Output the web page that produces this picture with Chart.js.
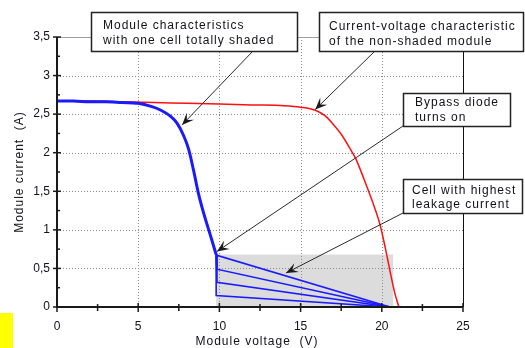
<!DOCTYPE html>
<html>
<head>
<meta charset="utf-8">
<script src="https://cdn.jsdelivr.net/npm/chart.js@4/dist/chart.umd.min.js"></script>
<style>
    html, body { margin: 0; padding: 0; background: #fff; }
</style>
</head>
<body>
<canvas id="iv-chart" width="525" height="348"></canvas>
<script>
// values (V in volts, I in amps)
const xTicks = [0, 5, 10, 15, 20, 25];
const xMinorTicks = [2.5, 7.5, 12.5, 17.5, 22.5];
const yTicks = [0, 0.5, 1, 1.5, 2, 2.5, 3, 3.5];
const yMinorTicks = [0.25, 0.75, 1.25, 1.75, 2.25, 2.75, 3.25];
const yTickLabels = ['0', '0,5', '1', '1,5', '2', '2,5', '3', '3,5'];

// non-shaded module
const unshadedV = [0, 2, 4, 6, 8, 10, 12, 14, 15, 15.9, 16.5, 17, 17.5, 18, 18.4, 18.9, 19.4, 19.9, 20.3, 20.55, 20.8, 21.05];
const unshadedI = [2.67, 2.67, 2.66, 2.65, 2.64, 2.63, 2.62, 2.61, 2.59, 2.55, 2.48, 2.37, 2.24, 2.07, 1.92, 1.66, 1.38, 1.06, 0.68, 0.42, 0.18, 0];

// one cell totally shaded, common part down to the knee
const shadedV = [0, 1, 2, 3, 4, 5, 5.8, 6.4, 7.0, 7.4, 7.8, 8.1, 8.4, 8.7, 9.0, 9.4, 9.8];
const shadedI = [2.67, 2.67, 2.66, 2.66, 2.65, 2.64, 2.60, 2.55, 2.47, 2.38, 2.22, 2.05, 1.78, 1.48, 1.24, 0.96, 0.68];

// bypass branches (one per leakage current)
const bendV = [9.85, 9.85, 9.85, 9.8];
const bendI = [0.67, 0.49, 0.32, 0.15];
const branchEndV = 20.5;
const branchEndI = 0;

// grey leakage region
const zoneV = [9.8, 20.7];
const zoneI = [0, 0.68];

const notes = [
    { lines: ['Module characteristics', 'with one cell totally shaded'], box: [91, 12, 206, 39], text: [103, 29, 15], from: [253, 51], tip: [7.7, 2.36] },
    { lines: ['Current-voltage characteristic', 'of the non-shaded module'], box: [319, 12, 204, 39], text: [329, 30, 15], from: [375, 51], tip: [15.9, 2.56] },
    { lines: ['Bypass diode', 'turns on'], box: [403, 93, 107, 33], text: [415, 106, 15], from: [403, 126], tip: [9.85, 0.72] },
    { lines: ['Cell with highest', 'leakage current'], box: [403, 179, 119, 34], text: [412, 194, 14], from: [403, 213], tip: [14.1, 0.44] }
];

const FONT = 'Arial, "Liberation Sans", sans-serif';
const TEXT = '#111118';

function pts(xs, ys) {
    return xs.map((v, i) => ({ x: v, y: ys[i] }));
}

// first dataset ends up on top
const datasets = [
    { data: pts(shadedV, shadedI), borderColor: '#1a1aff', borderWidth: 3, cubicInterpolationMode: 'monotone' }
];
bendV.forEach((v, i) => {
    datasets.push({
        data: [{ x: shadedV[shadedV.length - 1], y: shadedI[shadedI.length - 1] }, { x: v, y: bendI[i] }, { x: branchEndV, y: branchEndI }],
        borderColor: '#1a1aff', borderWidth: 1.6
    });
});
datasets.push({ data: pts(unshadedV, unshadedI), borderColor: '#ff1010', borderWidth: 1.5, cubicInterpolationMode: 'monotone' });

function seg(ctx, x0, y0, x1, y1) {
    ctx.beginPath();
    ctx.moveTo(x0, y0);
    ctx.lineTo(x1, y1);
    ctx.stroke();
}

function arrowHead(ctx, fx, fy, tx, ty) {
    const a = Math.atan2(ty - fy, tx - fx);
    const len = 12, wid = 5;
    const c = Math.cos(a), s = Math.sin(a);
    ctx.beginPath();
    ctx.moveTo(tx, ty);
    ctx.lineTo(tx - len * c + wid * s, ty - len * s - wid * c);
    ctx.lineTo(tx - 7 * c, ty - 7 * s);
    ctx.lineTo(tx - len * c - wid * s, ty - len * s + wid * c);
    ctx.closePath();
    ctx.fill();
}

const decor = {
    id: 'decor',
    beforeDatasetsDraw(chart) {
        const { ctx, scales: { x, y } } = chart;
        ctx.save();
        // shaded area
        const zx0 = x.getPixelForValue(zoneV[0]), zx1 = x.getPixelForValue(zoneV[1]);
        const zy0 = y.getPixelForValue(zoneI[1]), zy1 = y.getPixelForValue(zoneI[0]);
        ctx.fillStyle = '#dcdcdc';
        ctx.fillRect(zx0, zy0, zx1 - zx0, zy1 - zy0);
        // dotted grid
        ctx.strokeStyle = '#8c8c8c';
        ctx.lineWidth = 1;
        ctx.setLineDash([1, 2]);
        xTicks.slice(1, -1).forEach(v => {
            const px = Math.round(x.getPixelForValue(v)) + 0.5;
            seg(ctx, px, y.getPixelForValue(3.5), px, y.getPixelForValue(0));
        });
        yTicks.slice(1, -1).forEach(v => {
            const py = Math.round(y.getPixelForValue(v)) + 0.5;
            seg(ctx, x.getPixelForValue(0), py, x.getPixelForValue(25), py);
        });
        ctx.restore();
    },
    afterDatasetsDraw(chart) {
        const { ctx, scales: { x, y } } = chart;
        const left = x.getPixelForValue(0), right = x.getPixelForValue(25);
        const top = y.getPixelForValue(3.5), bottom = y.getPixelForValue(0);
        ctx.save();
        // frame: grey top, black right
        ctx.lineWidth = 1;
        ctx.strokeStyle = '#a0a0a0';
        seg(ctx, left, Math.round(top) + 0.5, right, Math.round(top) + 0.5);
        ctx.strokeStyle = '#111';
        seg(ctx, Math.round(right) + 0.5, top, Math.round(right) + 0.5, bottom);
        // axes
        ctx.lineWidth = 2;
        ctx.strokeStyle = '#1a1a1a';
        seg(ctx, left, top, left, bottom + 1);
        seg(ctx, left - 1, bottom, right, bottom);
        // tick marks
        ctx.lineWidth = 1.5;
        xTicks.forEach(v => { const px = x.getPixelForValue(v); seg(ctx, px, bottom - 4, px, bottom + 5); });
        xMinorTicks.forEach(v => { const px = x.getPixelForValue(v); seg(ctx, px, bottom - 3, px, bottom + 4); });
        yTicks.forEach(v => { const py = y.getPixelForValue(v); seg(ctx, left - 4, py, left + 4, py); });
        yMinorTicks.forEach(v => { const py = y.getPixelForValue(v); seg(ctx, left, py, left + 3, py); });

        // axis titles
        ctx.fillStyle = TEXT;
        ctx.font = '12px ' + FONT;
        ctx.letterSpacing = '1px';
        ctx.textAlign = 'center';
        ctx.textBaseline = 'middle';
        ctx.fillText('Module voltage  (V)', (left + right) / 2 - 3, 342);
        ctx.save();
        ctx.translate(20, (top + bottom) / 2);
        ctx.rotate(-Math.PI / 2);
        ctx.fillText('Module current  (A)', 0, 0);
        ctx.restore();

        // annotation boxes and arrows
        notes.forEach(n => {
            const tx = x.getPixelForValue(n.tip[0]), ty = y.getPixelForValue(n.tip[1]);
            ctx.strokeStyle = '#2a2a2a';
            ctx.fillStyle = '#1a1a1a';
            ctx.lineWidth = 1;
            seg(ctx, n.from[0], n.from[1], tx, ty);
            arrowHead(ctx, n.from[0], n.from[1], tx, ty);
        });
        notes.forEach(n => {
            const [bx, by, bw, bh] = n.box;
            ctx.fillStyle = '#fff';
            ctx.fillRect(bx, by, bw, bh);
            ctx.strokeStyle = '#222';
            ctx.lineWidth = 1.5;
            ctx.strokeRect(bx + 0.5, by + 0.5, bw, bh);
            ctx.fillStyle = TEXT;
            ctx.textAlign = 'left';
            ctx.textBaseline = 'alphabetic';
            n.lines.forEach((t, i) => ctx.fillText(t, n.text[0], n.text[1] + i * n.text[2]));
        });
        ctx.letterSpacing = '0px';

        // yellow marker at the lower left corner
        ctx.fillStyle = '#ffff00';
        ctx.fillRect(0, 313, 13, 35);
        ctx.restore();
    }
};

new Chart(document.getElementById('iv-chart').getContext('2d'), {
    type: 'scatter',
    data: { datasets: datasets },
    options: {
        responsive: false,
        animation: false,
        showLine: true,
        layout: { padding: { top: 37, right: 62, left: 0, bottom: 0 } },
        elements: { point: { radius: 0 }, line: { tension: 0 } },
        plugins: { legend: { display: false }, tooltip: { enabled: false } },
        scales: {
            x: {
                type: 'linear', min: 0, max: 25,
                afterBuildTicks: s => { s.ticks = xTicks.map(v => ({ value: v })); },
                afterFit: s => { s.height = 41; },
                ticks: { padding: 12, color: TEXT, font: { family: FONT, size: 12 }, maxRotation: 0 },
                grid: { display: false, drawTicks: false },
                border: { display: false }
            },
            y: {
                type: 'linear', min: 0, max: 3.5,
                afterBuildTicks: s => { s.ticks = yTicks.map(v => ({ value: v })); },
                afterFit: s => { s.width = 57; },
                ticks: {
                    padding: 7, color: TEXT, font: { family: FONT, size: 12 },
                    callback: v => yTickLabels[yTicks.indexOf(v)]
                },
                grid: { display: false, drawTicks: false },
                border: { display: false }
            }
        }
    },
    plugins: [decor]
});
</script>
</body>
</html>
